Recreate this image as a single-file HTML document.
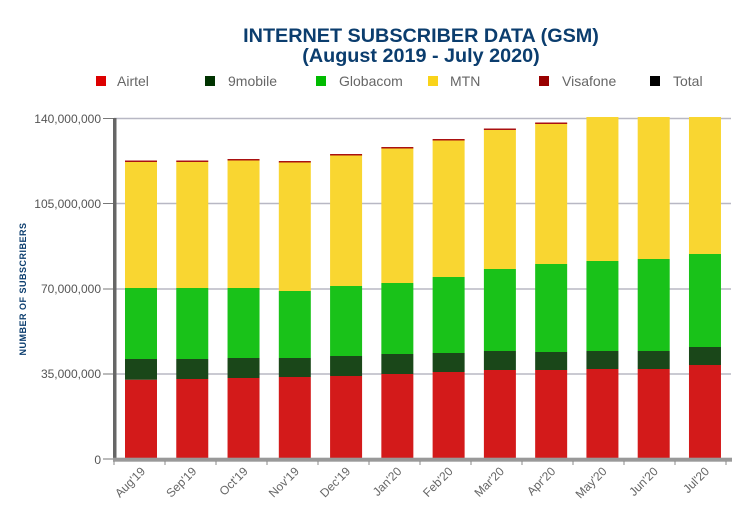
<!DOCTYPE html>
<html><head><meta charset="utf-8"><style>
html,body{margin:0;padding:0;background:#fff;width:732px;height:510px;overflow:hidden}
svg{display:block;font-family:"Liberation Sans",Arial,sans-serif}
</style></head><body>
<svg width="732" height="510" viewBox="0 0 732 510">
<text x="421" y="42" text-anchor="middle" font-size="19.8" font-weight="bold" fill="#0b3d6e">INTERNET SUBSCRIBER DATA (GSM)</text>
<text x="421" y="62" text-anchor="middle" font-size="19.8" font-weight="bold" fill="#0b3d6e">(August 2019 - July 2020)</text>
<g font-size="14" fill="#666">
<rect x="96" y="76" width="10" height="10" fill="#d00"/><text x="117" y="86">Airtel</text>
<rect x="205" y="76" width="10" height="10" fill="#003300"/><text x="228" y="86">9mobile</text>
<rect x="316" y="76" width="10" height="10" fill="#00bb00"/><text x="339" y="86">Globacom</text>
<rect x="428" y="76" width="10" height="10" fill="#f9d31a"/><text x="450" y="86">MTN</text>
<rect x="539" y="76" width="10" height="10" fill="#990000"/><text x="562" y="86">Visafone</text>
<rect x="650" y="76" width="10" height="10" fill="#000"/><text x="673" y="86">Total</text>
</g>
<g stroke="#b8b8c4" stroke-width="1.5">
<line x1="114" y1="118.5" x2="731" y2="118.5"/>
<line x1="114" y1="203.5" x2="731" y2="203.5"/>
<line x1="114" y1="289" x2="731" y2="289"/>
<line x1="114" y1="374" x2="731" y2="374"/>
</g>
<g id="bars"></g>
<g stroke="#777" stroke-width="1">
<line x1="103" y1="118.5" x2="114" y2="118.5"/>
<line x1="103" y1="203.5" x2="114" y2="203.5"/>
<line x1="103" y1="289" x2="114" y2="289"/>
<line x1="103" y1="374" x2="114" y2="374"/>
<line x1="103" y1="459" x2="114" y2="459"/>
</g>
<rect x="113" y="118" width="3.5" height="342" fill="#666"/>
<rect x="113" y="457.7" width="619" height="4" fill="#999"/>
<g font-size="12" fill="#555" text-anchor="end">
<text x="101" y="123">140,000,000</text>
<text x="101" y="208">105,000,000</text>
<text x="101" y="293">70,000,000</text>
<text x="101" y="378">35,000,000</text>
<text x="101" y="464">0</text>
</g>
<text transform="translate(26,289) rotate(-90)" text-anchor="middle" font-size="9" font-weight="bold" fill="#0b3d6e" letter-spacing="0.5">NUMBER OF SUBSCRIBERS</text>
<g id="xl" font-size="12" fill="#666" text-anchor="end"></g>
<g id="tk" stroke="#888"></g>
</svg>
<script>
var d=[[379.7,359,288,161.5,160.5],[379,359,288,161.5,160.5],[378,358,288,160,159],[377,358,291,162,161],[376,356,286,155,154],[374,354,283,148,147],[372,353,277,140,139],[370,351,269,129,128.5],[370,352,264,123,122.5],[369,351,261,117,117],[369,351,259,117,117],[365,347,254,117,117]];
var m=["Aug'19","Sep'19","Oct'19","Nov'19","Dec'19","Jan'20","Feb'20","Mar'20","Apr'20","May'20","Jun'20","Jul'20"];
var ns="http://www.w3.org/2000/svg",b=document.getElementById("bars"),xl=document.getElementById("xl"),tk=document.getElementById("tk");
var cols=["#d31a1a","#1a4719","#19c219","#f9d631","#aa1111"];
function r(x,y,w,h,c){var e=document.createElementNS(ns,"rect");e.setAttribute("x",x);e.setAttribute("y",y);e.setAttribute("width",w);e.setAttribute("height",h);e.setAttribute("fill",c);b.appendChild(e);}
for(var i=0;i<12;i++){var x=125+51.27*i,v=d[i];
r(x,v[0],32,458-v[0],cols[0]);r(x,v[1],32,v[0]-v[1],cols[1]);r(x,v[2],32,v[1]-v[2],cols[2]);r(x,v[3],32,v[2]-v[3],cols[3]);
if(v[3]-v[4]>0.2)r(x,v[4],32,1.5,cols[4]);
var t=document.createElementNS(ns,"text");var cx=x+16+5;t.setAttribute("transform","translate("+cx+",472) rotate(-45)");t.textContent=m[i];xl.appendChild(t);
var l=document.createElementNS(ns,"line");var tx=114+51*(i+1);l.setAttribute("x1",tx);l.setAttribute("x2",tx);l.setAttribute("y1",461);l.setAttribute("y2",465);tk.appendChild(l);}
var l0=document.createElementNS(ns,"line");l0.setAttribute("x1",114);l0.setAttribute("x2",114);l0.setAttribute("y1",461);l0.setAttribute("y2",465);tk.appendChild(l0);
</script>
</body></html>
